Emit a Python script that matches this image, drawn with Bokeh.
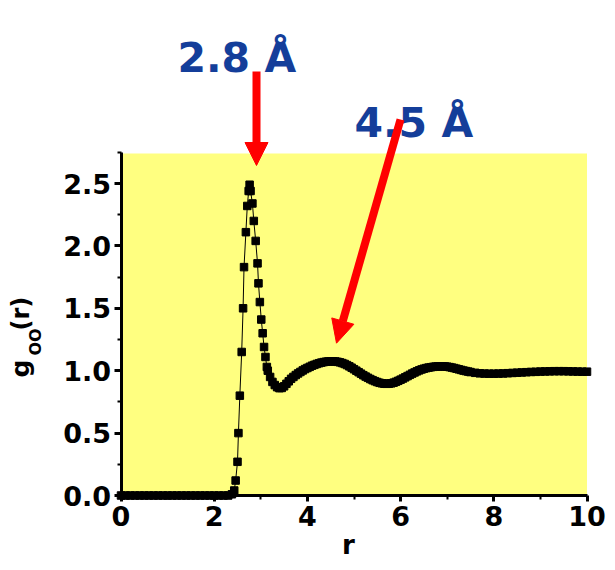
from bokeh.plotting import figure
from bokeh.models import Range1d, FixedTicker, BoxAnnotation, Label, Arrow, NormalHead
from bokeh.embed import file_html
from bokeh.resources import INLINE
import math

# ---- data ----
r_values = [0.0, 0.1, 0.2, 0.3, 0.4, 0.5, 0.6, 0.7, 0.8, 0.9, 1.0, 1.1, 1.2, 1.3, 1.4,
            1.5, 1.6, 1.7, 1.8, 1.9, 2.0, 2.1, 2.2, 2.3, 2.38,
            2.43, 2.46, 2.50, 2.52, 2.55, 2.59, 2.62, 2.64, 2.68, 2.71, 2.74, 2.76,
            2.78, 2.82, 2.85, 2.89, 2.93, 2.95, 2.98, 3.01, 3.04, 3.07, 3.10, 3.13,
            3.15, 3.20, 3.25, 3.30, 3.35, 3.40, 3.45, 3.50, 3.55, 3.60, 3.65, 3.70,
            3.75, 3.80, 3.85, 3.90, 3.95, 4.00, 4.05, 4.10, 4.15, 4.20, 4.25, 4.30,
            4.35, 4.40, 4.45, 4.50, 4.55, 4.60, 4.65, 4.70, 4.75, 4.80, 4.85, 4.90,
            4.95, 5.00, 5.05, 5.10, 5.15, 5.20, 5.25, 5.30, 5.35, 5.40, 5.45, 5.50,
            5.55, 5.60, 5.65, 5.70, 5.75, 5.80, 5.85, 5.90, 5.95, 6.00, 6.05, 6.10,
            6.15, 6.20, 6.25, 6.30, 6.35, 6.40, 6.45, 6.50, 6.55, 6.60, 6.65, 6.70,
            6.75, 6.80, 6.85, 6.90, 6.95, 7.00, 7.05, 7.10, 7.15, 7.20, 7.25, 7.30,
            7.35, 7.40, 7.45, 7.50, 7.6, 7.7, 7.8, 7.9, 8.0, 8.1, 8.2, 8.3, 8.4, 8.5,
            8.6, 8.7, 8.8, 8.9, 9.0, 9.1, 9.2, 9.3, 9.4, 9.5, 9.6, 9.7, 9.8, 9.9, 10.0]
g_values = [0.0, 0.0, 0.0, 0.0, 0.0, 0.0, 0.0, 0.0, 0.0, 0.0, 0.0, 0.0, 0.0, 0.0, 0.0,
            0.0, 0.0, 0.0, 0.0, 0.0, 0.0, 0.0, 0.0, 0.0, 0.01,
            0.04, 0.12, 0.27, 0.50, 0.80, 1.15, 1.50, 1.83, 2.11, 2.32, 2.44, 2.49,
            2.44, 2.34, 2.20, 2.04, 1.86, 1.70, 1.55, 1.41, 1.30, 1.19, 1.11, 1.03,
            1.00, 0.95, 0.91, 0.885, 0.868, 0.860, 0.862, 0.875, 0.895, 0.915, 0.935, 0.950,
            0.965, 0.978, 0.990, 1.002, 1.013, 1.022, 1.031, 1.040, 1.047, 1.054, 1.060, 1.065,
            1.069, 1.072, 1.074, 1.075, 1.075, 1.074, 1.071, 1.067, 1.061, 1.054, 1.045, 1.035,
            1.024, 1.012, 1.000, 0.988, 0.976, 0.964, 0.953, 0.943, 0.933, 0.924, 0.916, 0.909,
            0.903, 0.899, 0.896, 0.895, 0.896, 0.899, 0.904, 0.911, 0.919, 0.928, 0.937, 0.947,
            0.957, 0.967, 0.977, 0.986, 0.995, 1.003, 1.010, 1.016, 1.021, 1.025, 1.028, 1.031,
            1.033, 1.034, 1.035, 1.035, 1.034, 1.032, 1.029, 1.025, 1.021, 1.016, 1.011, 1.006,
            1.001, 0.997, 0.993, 0.989, 0.983, 0.979, 0.977, 0.976, 0.976, 0.977, 0.978, 0.980, 0.982, 0.984,
            0.986, 0.988, 0.990, 0.991, 0.993, 0.994, 0.995, 0.996, 0.996, 0.996, 0.995, 0.994, 0.993, 0.992, 0.992]

x_ticks = [0, 2, 4, 6, 8, 10]
x_minor_ticks = [1, 3, 5, 7, 9]
x_tick_labels = ["0", "2", "4", "6", "8", "10"]
y_ticks = [0.0, 0.5, 1.0, 1.5, 2.0, 2.5]
y_minor_ticks = [0.25, 0.75, 1.25, 1.75, 2.25, 2.75]
y_tick_labels = ["0.0", "0.5", "1.0", "1.5", "2.0", "2.5"]

peak1_label = "2.8 Å"
peak2_label = "4.5 Å"

FONT = "DejaVu Sans"
BLUE = "#143e9a"
YELLOW = "#ffff80"

W, H = 606, 562
X0_PX, X_SCALE = 120.5, 46.6     # pixel of r=0, pixels per unit
Y0_PX, Y_SCALE = 495.0, 124.8    # pixel of g=0, pixels per unit

p = figure(width=W, height=H, output_backend="svg", toolbar_location=None,
           title=None,
           x_range=Range1d(-X0_PX / X_SCALE, (W - X0_PX) / X_SCALE),
           y_range=Range1d(-(H - Y0_PX) / Y_SCALE, Y0_PX / Y_SCALE),
           min_border_left=0, min_border_right=0, min_border_top=0,
           min_border_bottom=0)
p.outline_line_color = None
p.xgrid.visible = False
p.ygrid.visible = False
p.background_fill_color = "white"
p.border_fill_color = "white"

p.add_layout(BoxAnnotation(left=0, right=10, bottom=0, top=2.74,
                           fill_color=YELLOW, fill_alpha=1.0, line_color=None,
                           level="underlay"))

p.line(r_values, g_values, line_color="black", line_width=1)
p.scatter(r_values, g_values, marker="square", size=7.5, fill_color="black",
          line_color="black")

for ax in (p.xaxis[0], p.yaxis[0]):
    ax.fixed_location = 0
    ax.axis_line_width = 3
    ax.axis_line_color = "black"
    ax.major_tick_line_width = 3
    ax.minor_tick_line_width = 2
    ax.major_tick_in = 0
    ax.minor_tick_in = 0
    ax.major_label_text_font = FONT
    ax.major_label_text_font_style = "bold"
    ax.major_label_text_font_size = "27px"
    ax.major_label_text_color = "black"

p.xaxis[0].ticker = FixedTicker(ticks=x_ticks, minor_ticks=x_minor_ticks)
p.xaxis[0].major_label_overrides = {t: l for t, l in zip(x_ticks, x_tick_labels)}
p.xaxis[0].bounds = (0, 10)
p.xaxis[0].major_tick_out = 6
p.xaxis[0].minor_tick_out = 4
p.xaxis[0].major_label_standoff = 4

p.yaxis[0].ticker = FixedTicker(ticks=y_ticks, minor_ticks=y_minor_ticks)
p.yaxis[0].major_label_overrides = {t: l for t, l in zip(y_ticks, y_tick_labels)}
p.yaxis[0].bounds = (0, 2.75)
p.yaxis[0].major_tick_out = 7
p.yaxis[0].minor_tick_out = 4
p.yaxis[0].major_label_standoff = 3


def dx(px):
    return (px - X0_PX) / X_SCALE


def dy(py):
    return (Y0_PX - py) / Y_SCALE


# axis titles drawn as labels (subscript for g_OO)
p.add_layout(Label(x=dx(348), y=dy(544), text="r", text_align="center",
                   text_baseline="alphabetic", text_font=FONT,
                   text_font_style="bold", text_font_size="26px",
                   text_color="black"))
p.add_layout(Label(x=dx(20), y=dy(377), text="g", angle=math.pi / 2,
                   text_align="left", text_baseline="alphabetic", text_font=FONT,
                   text_font_style="bold", text_font_size="25px", text_color="black"))
p.add_layout(Label(x=dx(35), y=dy(355), text="OO", angle=math.pi / 2,
                   text_align="left", text_baseline="alphabetic", text_font=FONT,
                   text_font_style="bold", text_font_size="16px", text_color="black"))
p.add_layout(Label(x=dx(20), y=dy(330), text="(r)", angle=math.pi / 2,
                   text_align="left", text_baseline="alphabetic", text_font=FONT,
                   text_font_style="bold", text_font_size="24px", text_color="black"))

# peak annotations
p.add_layout(Label(x=dx(177), y=dy(57), text=peak1_label, text_align="left",
                   text_baseline="alphabetic", text_font=FONT,
                   text_font_style="bold", text_font_size="41px", text_color=BLUE))
p.add_layout(Label(x=dx(354), y=dy(122), text=peak2_label, text_align="left",
                   text_baseline="alphabetic", text_font=FONT,
                   text_font_style="bold", text_font_size="41px", text_color=BLUE))

p.add_layout(Arrow(end=NormalHead(size=23, fill_color="red", line_color="red"),
                   x_start=dx(256), y_start=dy(71), x_end=dx(256), y_end=dy(165),
                   line_color="red", line_width=8))
p.add_layout(Arrow(end=NormalHead(size=23, fill_color="red", line_color="red"),
                   x_start=dx(400), y_start=dy(119), x_end=dx(336), y_end=dy(342.7),
                   line_color="red", line_width=8))

open("out.html", "w").write(file_html(p, INLINE))
